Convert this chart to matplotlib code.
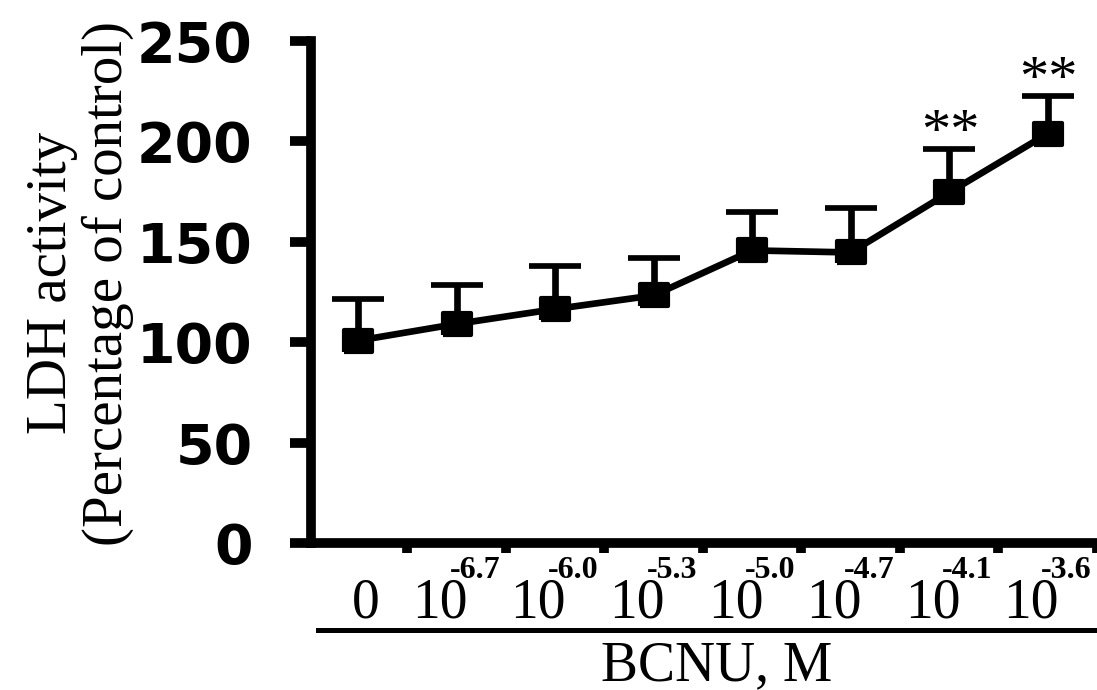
import matplotlib
matplotlib.use("Agg")
import matplotlib.pyplot as plt
import numpy as np
from matplotlib.transforms import offset_copy, blended_transform_factory
from matplotlib.lines import Line2D
from matplotlib.markers import MarkerStyle

# ---- data ----
dose_base = ["0", "10", "10", "10", "10", "10", "10", "10"]
dose_exp = ["", "-6.7", "-6.0", "-5.3", "-5.0", "-4.7", "-4.1", "-3.6"]
ldh_mean = [100.8, 109.1, 116.5, 123.3, 145.7, 144.7, 174.6, 203.9]
ldh_upper = [121.5, 128.5, 138.0, 142.0, 164.8, 166.8, 196.0, 222.6]
significance = ["", "", "", "", "", "", "**", "**"]
y_ticks = [0, 50, 100, 150, 200, 250]

x = np.arange(len(ldh_mean))
mean = np.array(ldh_mean)
err_up = np.array(ldh_upper) - mean

fig = plt.figure(figsize=(10.97, 6.90), dpi=100)
ax = fig.add_axes([311 / 1097, 1 - 543 / 690, 1 - 311 / 1097, (543 - 41) / 690])

ax.set_xlim(-0.477, 7.5)
ax.set_ylim(0, 250)

# error bars (upward only)
eb = ax.errorbar(x, mean, yerr=[np.zeros_like(err_up), err_up], fmt='none',
                 ecolor='black', elinewidth=4.8, capsize=18.7, capthick=4.1, zorder=2)
caps = eb[1]
if len(caps) == 2:
    caps[0].set_visible(False)

# line + markers
rect = [(-1, -0.8), (1, -0.8), (1, 0.8), (-1, 0.8), (-1, -0.8)]
mk = MarkerStyle(rect, joinstyle='round')
ax.plot(x, mean, color='black', linewidth=4.8, marker=mk, markersize=19.5,
        markerfacecolor='black', markeredgecolor='black', markeredgewidth=3,
        solid_joinstyle='round', zorder=3)

# significance
for xi, top, s in zip(x, ldh_upper, significance):
    if s:
        ax.text(xi + 0.01, top, s, ha='center', va='baseline',
                fontsize=42, family='Liberation Serif',
                transform=offset_copy(ax.transData, fig=fig, x=0, y=1, units='dots'))

# spines
for side in ['top', 'right']:
    ax.spines[side].set_visible(False)
for side in ['left', 'bottom']:
    ax.spines[side].set_linewidth(7)
    ax.spines[side].set_capstyle('projecting')

# y ticks
ax.set_yticks(y_ticks)
ax.set_yticklabels([str(v) for v in y_ticks])
ax.tick_params(axis='y', length=15, width=7, pad=27, direction='out')
for lab in ax.get_yticklabels():
    lab.set_fontfamily('DejaVu Sans')
    lab.set_fontweight('bold')
    lab.set_fontsize(40)

# x ticks (category boundaries)
ax.set_xticks(np.arange(0.5, 8, 1.0))
ax.set_xticklabels([])
ax.tick_params(axis='x', length=7, width=7, direction='out')

# x category labels
bt = blended_transform_factory(ax.transData, ax.transAxes)
for xi, base, ex in zip(x, dose_base, dose_exp):
    if ex == "":
        ax.text(xi, 0, base, ha='center', va='baseline', fontsize=40,
                family='Liberation Serif',
                transform=offset_copy(bt, fig=fig, x=8, y=-75, units='dots'))
    else:
        ax.text(xi, 0, base, ha='right', va='baseline', fontsize=40,
                family='Liberation Serif',
                transform=offset_copy(bt, fig=fig, x=11, y=-74, units='dots'))
        ax.text(xi, 0, ex, ha='left', va='baseline', fontsize=23,
                family='Liberation Serif', fontweight='bold',
                transform=offset_copy(bt, fig=fig, x=-7, y=-35, units='dots'))

# underline below category labels
fig.add_artist(Line2D([318 / 1097, 1.0], [1 - 630 / 690, 1 - 630 / 690],
                      transform=fig.transFigure, color='black', linewidth=3.6))

fig.text(717 / 1097, 1 - 680 / 690, "BCNU, M", ha='center', va='baseline',
         fontsize=40, family='Liberation Serif')

fig.text(80 / 1097, 1 - 283 / 690, "LDH activity\n(Percentage of control)",
         rotation=90, ha='center', va='center', multialignment='center',
         fontsize=41, family='Liberation Serif', linespacing=1.08)

fig.savefig("out.png", dpi=100)
